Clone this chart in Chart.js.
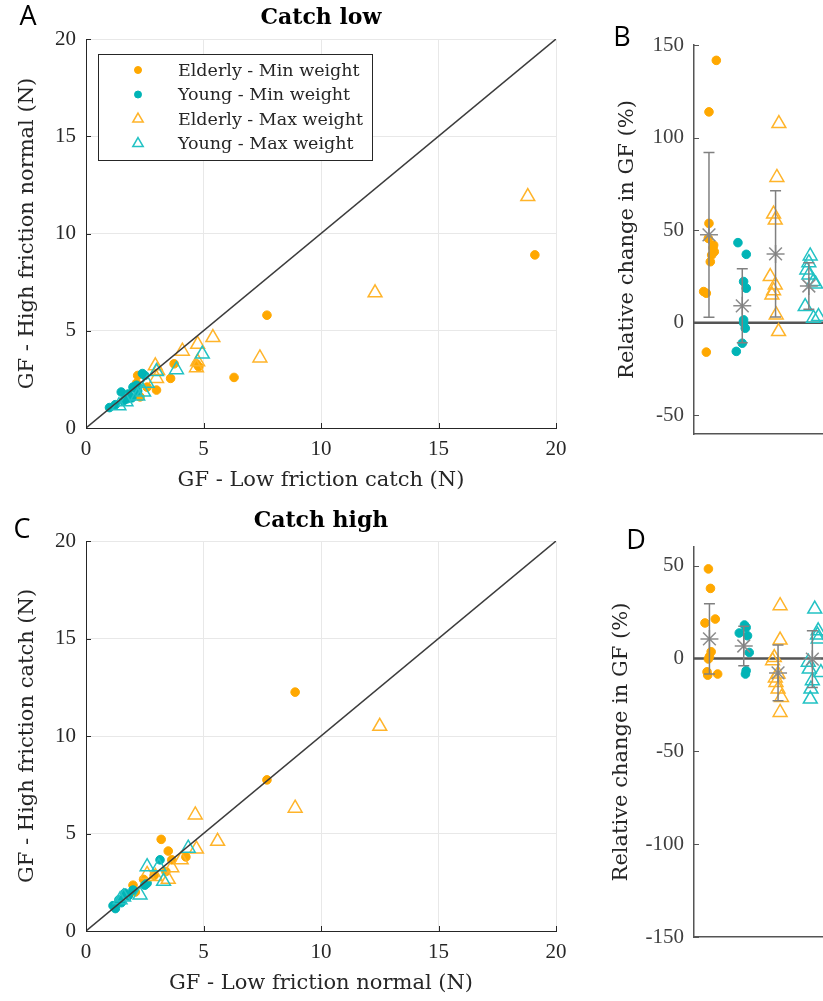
<!DOCTYPE html>
<html>
<head>
<meta charset="utf-8">
<script src="https://cdn.jsdelivr.net/npm/chart.js@4.4.1/dist/chart.umd.min.js"></script>
<style>
  html, body { margin: 0; padding: 0; background: #fff; overflow: hidden; width: 823px; height: 1001px; }
  canvas.panel { position: absolute; }
</style>
</head>
<body>
<canvas id="panelA" class="panel" width="600" height="500" style="left:0;top:0"></canvas>
<canvas id="panelB" class="panel" width="400" height="500" style="left:600px;top:0"></canvas>
<canvas id="panelC" class="panel" width="600" height="500" style="left:0;top:500px"></canvas>
<canvas id="panelD" class="panel" width="400" height="500" style="left:600px;top:500px"></canvas>
<script>
// ---------- series names ----------
const seriesNames = ['Elderly - Min weight', 'Young - Min weight', 'Elderly - Max weight', 'Young - Max weight'];

// ---------- tick labels ----------
const forceTicks = [0, 5, 10, 15, 20];
const lowRelTicks = [-50, 0, 50, 100, 150];
const highRelTicks = [-150, -100, -50, 0, 50];

// ---------- Catch low: GF low friction catch (x) vs high friction normal (y), N ----------
const lowElderlyMin = [[19.1, 8.9], [7.7, 5.8], [6.3, 2.6], [4.7, 3.3], [4.8, 3.15], [3.75, 3.3], [3.6, 2.55], [3.0, 1.95], [2.2, 2.7], [2.3, 1.6], [2.15, 2.3], [2.6, 2.1]];
const lowYoungMin = [[1.0, 1.05], [1.25, 1.2], [1.5, 1.85], [1.6, 1.4], [1.75, 1.5], [1.95, 1.55], [2.0, 2.1], [2.15, 2.2], [2.4, 2.8], [2.5, 2.7], [1.8, 1.75], [2.2, 1.9]];
const lowElderlyMax = [[18.8, 11.9], [12.3, 6.95], [7.4, 3.6], [5.4, 4.65], [4.75, 4.3], [4.1, 3.95], [4.7, 3.1], [4.75, 3.4], [2.95, 3.2], [3.0, 2.55], [3.05, 2.95]];
const lowYoungMax = [[4.95, 3.8], [3.85, 3.0], [3.0, 2.9], [2.45, 1.85], [1.4, 1.15], [2.2, 1.65], [1.7, 1.35], [2.6, 2.3]];

// ---------- Catch high: GF low friction normal (x) vs high friction catch (y), N ----------
const highElderlyMin = [[8.9, 12.25], [7.7, 7.75], [3.2, 4.7], [3.5, 4.1], [4.25, 3.8], [3.65, 3.65], [3.4, 3.05], [2.45, 2.65], [2.0, 2.35], [2.1, 2.0], [2.9, 2.85]];
const highYoungMin = [[3.15, 3.65], [2.5, 2.35], [2.0, 2.1], [1.65, 1.95], [1.4, 1.6], [1.15, 1.3], [1.5, 1.45], [1.25, 1.15], [2.6, 2.45], [1.8, 1.8]];
const highElderlyMax = [[12.5, 10.5], [8.9, 6.3], [4.65, 5.95], [5.6, 4.6], [4.7, 4.2], [4.05, 3.65], [3.65, 3.25], [3.5, 2.65], [2.95, 2.8], [2.6, 2.9]];
const highYoungMax = [[4.35, 4.25], [2.6, 3.3], [3.1, 3.3], [3.3, 2.55], [2.3, 1.85], [1.45, 1.6], [1.6, 1.75]];

// ---------- Relative change in GF (%), catch low; jitter = horizontal spread within a group ----------
const lowRelElderlyMin = [141.7, 113.9, 53.7, 45.6, 42.0, 40.5, 38.4, 36.6, 33.0, 16.9, 16.0, -15.8];
const lowJitElderlyMin = [0.22, 0.0, 0.0, -0.02, 0.14, 0.12, 0.16, 0.08, 0.04, -0.16, -0.08, -0.08];
const lowRelYoungMin = [43.3, 37.0, 22.3, 18.7, 1.6, 0.0, -2.9, -11.0, -15.4];
const lowJitYoungMin = [-0.13, 0.12, 0.04, 0.12, 0.04, 0.04, 0.09, 0.0, -0.18];
const lowRelElderlyMax = [107.6, 78.5, 58.7, 55.5, 25.0, 20.5, 17.4, 15.1, 4.3, -4.7];
const lowJitElderlyMax = [0.1, 0.04, -0.06, -0.01, -0.16, -0.01, -0.06, -0.11, 0.02, 0.09];
const lowRelYoungMax = [36.1, 32.5, 28.6, 25.9, 22.3, 21.0, 8.8, 2.5, 3.4];
const lowJitYoungMax = [0.04, 0.0, -0.06, 0.0, 0.14, 0.2, -0.11, 0.14, 0.29];
const lowRelMean = [47.5, 9.2, 37.2, 19.9];
const lowRelSd = [44.5, 20.0, 34.1, 12.6];

// ---------- Relative change in GF (%), catch high ----------
const highRelElderlyMin = [48.2, 37.7, 21.2, 19.1, 3.6, 1.0, -0.3, -7.2, -8.4, -9.0];
const highJitElderlyMin = [-0.03, 0.03, 0.17, -0.13, 0.05, 0.0, -0.03, -0.07, 0.24, -0.05];
const highRelYoungMin = [18.0, 16.7, 13.7, 12.2, 3.2, -6.6, -8.4];
const highJitYoungMin = [0.02, 0.07, -0.13, 0.11, 0.16, 0.07, 0.05];
const highRelElderlyMax = [28.4, 9.9, 0.5, -1.2, -8.4, -10.5, -12.9, -16.5, -21.0, -29.1];
const highJitElderlyMax = [0.06, 0.06, -0.11, -0.16, 0.0, -0.08, -0.06, 0.0, 0.1, 0.06];
const highRelYoungMax = [26.6, 14.9, 12.6, 10.5, -2.0, -5.7, -7.6, -12.0, -16.5, -21.9];
const highJitYoungMax = [0.07, 0.17, 0.15, 0.17, -0.12, -0.09, 0.25, 0.0, -0.04, -0.06];
const highRelMean = [10.5, 6.7, -7.8, -0.4];
const highRelSd = [18.9, 10.6, 15.0, 15.3];

// ---------- styling ----------
const AXIS = '#262626';
const ORANGE = '#FFA800';
const TEAL = '#00B4B6';
const ORANGE_EDGE = '#FFB42A';
const TEAL_EDGE = '#22C2C4';
const SERIF = "'DejaVu Serif', serif";
const tickFont = { family: "'Liberation Serif', serif", size: 21 };
const labelFont = { family: SERIF, size: 21 };

function markerStyle(i) {
  const young = i % 2 === 1;
  if (i < 2) {
    const c = young ? TEAL : ORANGE;
    return { pointStyle: 'circle', pointRadius: 4.3, pointBackgroundColor: c, pointBorderColor: c, pointBorderWidth: 1 };
  }
  return { pointStyle: 'triangle', pointRadius: 8, pointBackgroundColor: 'rgba(0,0,0,0)',
           pointBorderColor: young ? TEAL_EDGE : ORANGE_EDGE, pointBorderWidth: 1.5 };
}

// ---------- plugins ----------
const innerTicks = {
  id: 'innerTicks',
  afterDraw(chart, args, opts) {
    const { ctx, chartArea: a, scales } = chart;
    ctx.save();
    ctx.strokeStyle = opts.color;
    ctx.lineWidth = 1;
    ctx.beginPath();
    scales.y.ticks.forEach(t => {
      const p = Math.round(scales.y.getPixelForValue(t.value)) + 0.5;
      ctx.moveTo(a.left, p); ctx.lineTo(a.left + opts.len, p);
    });
    if (opts.xTicks) {
      scales.x.ticks.forEach(t => {
        const p = Math.round(scales.x.getPixelForValue(t.value)) + 0.5;
        ctx.moveTo(p, a.bottom); ctx.lineTo(p, a.bottom - opts.len);
      });
    }
    ctx.stroke();
    ctx.restore();
  }
};

const errorBars = {
  id: 'errorBars',
  afterDatasetsDraw(chart, args, opts) {
    if (!opts.means) return;
    const { ctx, scales: { x, y } } = chart;
    ctx.save();
    ctx.strokeStyle = opts.color;
    ctx.lineWidth = opts.width;
    ctx.beginPath();
    opts.means.forEach((m, i) => {
      const px = x.getPixelForValue(i + 1);
      const top = y.getPixelForValue(m + opts.sds[i]);
      const bot = y.getPixelForValue(m - opts.sds[i]);
      ctx.moveTo(px, top); ctx.lineTo(px, bot);
      ctx.moveTo(px - opts.cap, top); ctx.lineTo(px + opts.cap, top);
      ctx.moveTo(px - opts.cap, bot); ctx.lineTo(px + opts.cap, bot);
    });
    ctx.stroke();
    ctx.restore();
  }
};

const panelText = {
  id: 'panelText',
  afterDraw(chart, args, opts) {
    const { ctx, chartArea: a } = chart;
    ctx.save();
    ctx.fillStyle = '#000';
    ctx.textBaseline = 'middle';
    ctx.textAlign = 'center';
    if (opts.letter) {
      ctx.font = "27px 'Open Sans', 'Noto Sans', sans-serif";
      ctx.fillText(opts.letter, opts.letterX, opts.letterY);
    }
    if (opts.title) {
      ctx.font = "bold 22px " + SERIF;
      ctx.fillText(opts.title, (a.left + a.right) / 2, a.top + opts.titleDy);
    }
    ctx.restore();
  }
};

const boxLegend = {
  id: 'boxLegend',
  afterDraw(chart, args, opts) {
    if (!opts.show) return;
    const { ctx, chartArea: a } = chart;
    const x0 = a.left + 12, y0 = a.top + 15, w = 274, h = 106;
    ctx.save();
    ctx.fillStyle = '#fff';
    ctx.fillRect(x0, y0, w, h);
    ctx.strokeStyle = AXIS;
    ctx.lineWidth = 1;
    ctx.strokeRect(x0 + 0.5, y0 + 0.5, w, h);
    ctx.font = "17.5px " + SERIF;
    ctx.textBaseline = 'middle';
    ctx.textAlign = 'left';
    seriesNames.forEach((name, i) => {
      const cy = y0 + 16 + i * 24.5;
      const st = markerStyle(i);
      ctx.fillStyle = st.pointBackgroundColor;
      ctx.strokeStyle = st.pointBorderColor;
      ctx.lineWidth = st.pointBorderWidth;
      Chart.helpers.drawPoint(ctx, { pointStyle: st.pointStyle, radius: i < 2 ? 3.5 : 6, rotation: 0, borderWidth: st.pointBorderWidth }, x0 + 40, cy);
      ctx.fillStyle = AXIS;
      ctx.fillText(name, x0 + 80, cy + 1);
    });
    ctx.restore();
  }
};

Chart.register(innerTicks, errorBars, panelText, boxLegend);

// ---------- scatter panels (A, C) ----------
function buildScatter(id, sets, xTitle, yTitle, title, letter, frame) {
  const datasets = sets.map((pts, i) => Object.assign({
    type: 'scatter', label: seriesNames[i],
    data: pts.map(([x, y]) => ({ x, y })),
    order: 4 - i
  }, markerStyle(i)));
  datasets.push({ type: 'line', label: 'identity', data: [{ x: 0, y: 0 }, { x: 20, y: 20 }],
                  borderColor: '#3c3c3c', borderWidth: 1.5, pointRadius: 0, order: 0 });
  return new Chart(document.getElementById(id), {
    type: 'scatter',
    data: { datasets },
    options: {
      responsive: false, animation: false, events: [], devicePixelRatio: 1,
      layout: { padding: { left: 0, top: frame.top, right: frame.right, bottom: 0 } },
      plugins: {
        legend: { display: false }, tooltip: { enabled: false },
        innerTicks: { color: AXIS, len: 5, xTicks: true },
        errorBars: {},
        panelText: { letter, letterX: frame.letterX, letterY: frame.letterY, title, titleDy: frame.titleDy },
        boxLegend: { show: frame.legend }
      },
      scales: {
        x: {
          type: 'linear', min: 0, max: 20,
          afterBuildTicks: s => { s.ticks = forceTicks.map(v => ({ value: v })); },
          ticks: { font: tickFont, color: AXIS, padding: 9 },
          grid: { color: '#e8e8e8', drawTicks: false },
          border: { display: true, color: AXIS, width: 1 },
          title: { display: true, text: xTitle, font: labelFont, color: AXIS, padding: { top: 0, bottom: frame.xTitlePad } },
          afterFit: s => { s.height = frame.xHeight; }
        },
        y: {
          type: 'linear', min: 0, max: 20,
          afterBuildTicks: s => { s.ticks = forceTicks.map(v => ({ value: v })); },
          ticks: { font: tickFont, color: AXIS, padding: 10 },
          grid: { color: '#e8e8e8', drawTicks: false },
          border: { display: true, color: AXIS, width: 1 },
          title: { display: true, text: yTitle, font: labelFont, color: AXIS, padding: { top: frame.yTitlePad, bottom: 0 } },
          afterFit: s => { s.width = 86; }
        }
      }
    }
  });
}

// ---------- relative change panels (B, D) ----------
function buildRel(id, groups, jitters, means, sds, ticks, yMin, yMax, letter, frame) {
  const datasets = groups.map((vals, g) => Object.assign({
    type: 'scatter', label: seriesNames[g],
    data: vals.map((v, k) => ({ x: g + 1 + jitters[g][k], y: v })),
    order: 5 - g
  }, markerStyle(g)));
  datasets.push({ type: 'scatter', label: 'mean', data: means.map((m, i) => ({ x: i + 1, y: m })),
                  pointStyle: 'star', pointRadius: 9, pointBorderColor: '#8c8c8c', pointBackgroundColor: '#8c8c8c',
                  pointBorderWidth: 1.5, order: 0 });
  datasets.push({ type: 'line', label: 'zero', data: [{ x: 0.4, y: 0 }, { x: 8.6, y: 0 }],
                  borderColor: '#555555', borderWidth: 2.5, pointRadius: 0, order: 9 });
  return new Chart(document.getElementById(id), {
    type: 'scatter',
    data: { datasets },
    options: {
      responsive: false, animation: false, events: [], devicePixelRatio: 1,
      layout: { padding: { left: 0, top: frame.top, right: frame.right, bottom: 0 } },
      plugins: {
        legend: { display: false }, tooltip: { enabled: false },
        innerTicks: { color: '#555555', len: 5, xTicks: false },
        errorBars: { means, sds, color: '#808080', width: 1.5, cap: 5.5 },
        panelText: { letter, letterX: frame.letterX, letterY: frame.letterY },
        boxLegend: { show: false }
      },
      scales: {
        x: {
          type: 'linear', min: 0.55, max: 8.45,
          ticks: { display: false },
          grid: { drawOnChartArea: false, drawTicks: false },
          border: { display: true, color: '#555555', width: 1.5 },
          afterFit: s => { s.height = frame.xHeight; }
        },
        y: {
          type: 'linear', min: yMin, max: yMax,
          afterBuildTicks: s => { s.ticks = ticks.map(v => ({ value: v })); },
          ticks: { font: tickFont, color: '#404040', padding: 10 },
          grid: { drawOnChartArea: false, drawTicks: false },
          border: { display: true, color: '#555555', width: 1.5 },
          title: { display: true, text: 'Relative change in GF (%)', font: labelFont, color: '#262626',
                   padding: { top: frame.yTitlePad, bottom: 0 } },
          afterFit: s => { s.width = 94; }
        }
      }
    }
  });
}

buildScatter('panelA', [lowElderlyMin, lowYoungMin, lowElderlyMax, lowYoungMax],
  'GF - Low friction catch (N)', 'GF - High friction normal (N)', 'Catch low', 'A',
  { top: 39, right: 44, xHeight: 72, xTitlePad: 7, yTitlePad: 15, letterX: 28, letterY: 17, titleDy: -21, legend: true });

buildScatter('panelC', [highElderlyMin, highYoungMin, highElderlyMax, highYoungMax],
  'GF - Low friction normal (N)', 'GF - High friction catch (N)', 'Catch high', 'C',
  { top: 41, right: 44, xHeight: 69, xTitlePad: 4, yTitlePad: 15, letterX: 22, letterY: 30, titleDy: -20, legend: false });

buildRel('panelB', [lowRelElderlyMin, lowRelYoungMin, lowRelElderlyMax, lowRelYoungMax],
  [lowJitElderlyMin, lowJitYoungMin, lowJitElderlyMax, lowJitYoungMax],
  lowRelMean, lowRelSd, lowRelTicks, -60, 150, 'B',
  { top: 45, right: 43, xHeight: 66, yTitlePad: 15, letterX: 22, letterY: 38 });

buildRel('panelD', [highRelElderlyMin, highRelYoungMin, highRelElderlyMax, highRelYoungMax],
  [highJitElderlyMin, highJitYoungMin, highJitElderlyMax, highJitYoungMax],
  highRelMean, highRelSd, highRelTicks, -150, 60, 'D',
  { top: 47, right: 35, xHeight: 63, yTitlePad: 9, letterX: 36, letterY: 41 });
</script>
</body>
</html>
